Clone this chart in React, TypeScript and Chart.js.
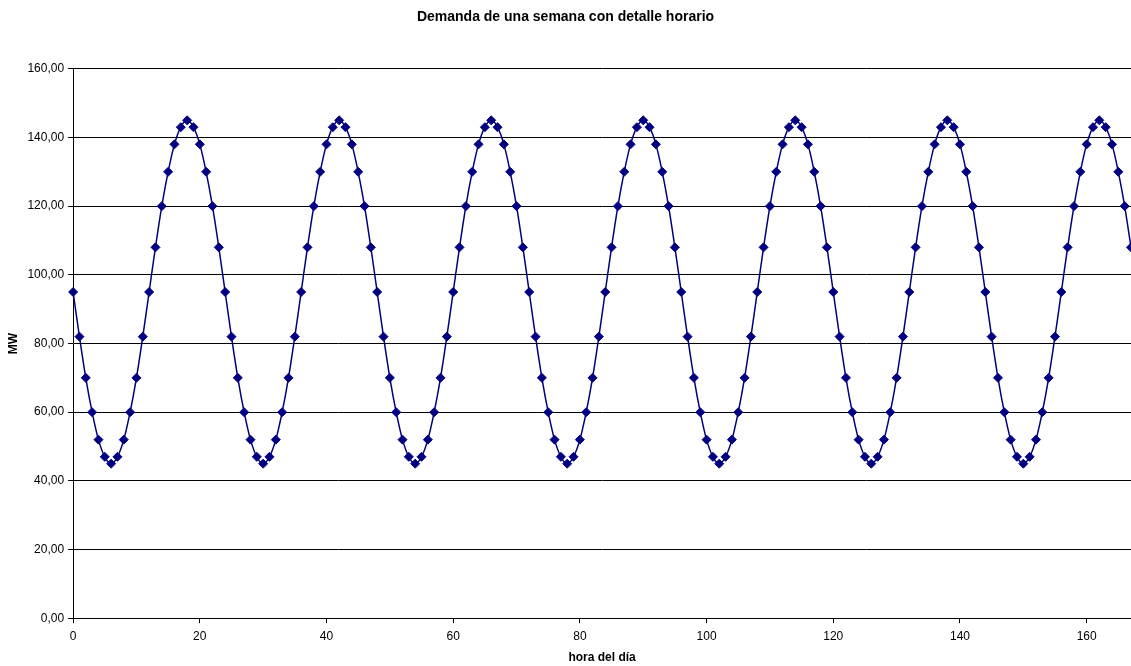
import React, { useEffect, useRef } from "react";
import { Chart, registerables } from "chart.js";

Chart.register(...registerables);

const titleText = "Demanda de una semana con detalle horario";
const xTitle = "hora del día";
const yTitle = "MW";

const hours: number[] = Array.from({ length: 168 }, (_, i) => i);

const demand: number[] = [
  // day 1
  95, 82, 70, 60, 52, 47, 45, 47, 52, 60, 70, 82, 95, 108, 120, 130, 138, 143, 145, 143, 138, 130, 120, 108,
  // day 2
  95, 82, 70, 60, 52, 47, 45, 47, 52, 60, 70, 82, 95, 108, 120, 130, 138, 143, 145, 143, 138, 130, 120, 108,
  // day 3
  95, 82, 70, 60, 52, 47, 45, 47, 52, 60, 70, 82, 95, 108, 120, 130, 138, 143, 145, 143, 138, 130, 120, 108,
  // day 4
  95, 82, 70, 60, 52, 47, 45, 47, 52, 60, 70, 82, 95, 108, 120, 130, 138, 143, 145, 143, 138, 130, 120, 108,
  // day 5
  95, 82, 70, 60, 52, 47, 45, 47, 52, 60, 70, 82, 95, 108, 120, 130, 138, 143, 145, 143, 138, 130, 120, 108,
  // day 6
  95, 82, 70, 60, 52, 47, 45, 47, 52, 60, 70, 82, 95, 108, 120, 130, 138, 143, 145, 143, 138, 130, 120, 108,
  // day 7
  95, 82, 70, 60, 52, 47, 45, 47, 52, 60, 70, 82, 95, 108, 120, 130, 138, 143, 145, 143, 138, 130, 120, 108,
];

const yTicks: number[] = [0, 20, 40, 60, 80, 100, 120, 140, 160];
const xTicks: number[] = [0, 20, 40, 60, 80, 100, 120, 140, 160];

export default function App() {
  const ref = useRef<HTMLCanvasElement | null>(null);

  useEffect(() => {
    if (!ref.current) return;
    const font = "'Liberation Sans', Arial, sans-serif";
    const chart = new Chart(ref.current, {
      type: "line",
      data: {
        datasets: [
          {
            label: "Demanda",
            data: hours.map((h, i) => ({ x: h, y: demand[i] })),
            borderColor: "#000080",
            backgroundColor: "#000080",
            borderWidth: 1.5,
            pointStyle: "rectRot",
            pointRadius: 4.5,
            pointBorderWidth: 1,
            pointBackgroundColor: "#000080",
            pointBorderColor: "#000080",
            tension: 0.3,
            clip: false as any,
          },
        ],
      },
      options: {
        responsive: false,
        animation: false,
        layout: { autoPadding: false, padding: { top: 0, right: 0, bottom: 0, left: 0 } },
        plugins: {
          legend: { display: false },
          tooltip: { enabled: false },
          title: {
            display: true,
            text: titleText,
            color: "#000",
            font: { family: font, size: 14, weight: "bold" },
            padding: { top: 9, bottom: 43 },
          },
        },
        scales: {
          x: {
            type: "linear",
            min: 0,
            max: 167,
            afterBuildTicks: (scale: any) => {
              scale.ticks = xTicks.map((v) => ({ value: v }));
            },
            ticks: {
              color: "#000",
              font: { family: font, size: 12 },
              padding: 6,
              maxRotation: 0,
              callback: (v: any) => String(v),
            },
            grid: {
              display: true,
              drawOnChartArea: false,
              drawTicks: true,
              tickLength: 5,
              color: "#000",
            },
            border: { display: true, color: "#000", width: 1 },
            title: {
              display: true,
              text: xTitle,
              color: "#000",
              font: { family: font, size: 12, weight: "bold" },
              padding: { top: 1, bottom: 1 },
            },
          },
          y: {
            type: "linear",
            min: 0,
            max: 160,
            afterBuildTicks: (scale: any) => {
              scale.ticks = yTicks.map((v) => ({ value: v }));
            },
            ticks: {
              color: "#000",
              font: { family: font, size: 12 },
              padding: 4,
              callback: (v: any) => Number(v).toFixed(2).replace(".", ","),
            },
            grid: {
              display: true,
              drawOnChartArea: true,
              drawTicks: true,
              tickLength: 5,
              color: "#000",
              lineWidth: 1,
            },
            border: { display: true, color: "#000", width: 1 },
            title: {
              display: true,
              text: yTitle,
              color: "#000",
              font: { family: font, size: 12, weight: "bold" },
              padding: { top: 6, bottom: 3 },
            },
          },
        },
      },
    } as any);
    return () => chart.destroy();
  }, []);

  return (
    <div style={{ position: "absolute", left: 0, top: 0, width: 1131, height: 666, overflow: "hidden", background: "#fff" }}>
      <canvas ref={ref} width={1131} height={666} style={{ display: "block" }} />
    </div>
  );
}
